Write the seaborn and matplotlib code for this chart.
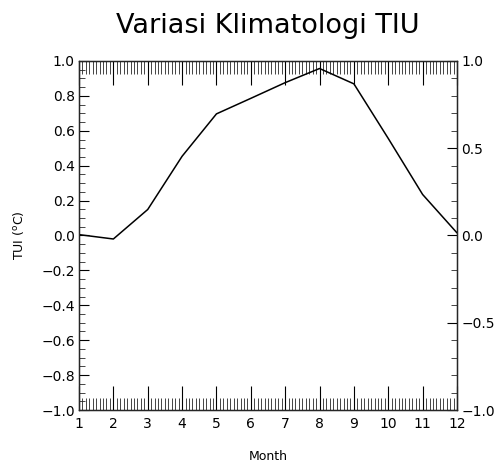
import matplotlib
matplotlib.use("Agg")
import matplotlib.pyplot as plt
from matplotlib.ticker import MultipleLocator, FuncFormatter
import seaborn as sns
import pandas as pd

# Monthly climatology of the TUI index
months = [1, 2, 3, 4, 5, 6, 7, 8, 9, 10, 11, 12]
tui = [0.005, -0.02, 0.149, 0.454, 0.697, 0.786, 0.876, 0.957, 0.869, 0.556, 0.235, 0.015]

title = "Variasi Klimatologi TIU"
xlabel = "Month"
ylabel = r"TUI ($^{\rm o}$C)"

sns.set_style("ticks")
plt.rcParams["font.family"] = ["DejaVu Sans"]
plt.rcParams["text.color"] = "black"
plt.rcParams["axes.labelcolor"] = "black"


def one_decimal(v, pos):
    s = "%.1f" % v
    if s == "-0.0":
        s = "0.0"
    return s.replace("-", "\u2212")


df = pd.DataFrame({"Month": months, "TUI": tui})

fig = plt.figure(figsize=(4.99, 4.67), dpi=100)
ax = fig.add_axes([79 / 499, 1 - 410 / 467, (457 - 79) / 499, (410 - 61) / 467])

sns.lineplot(data=df, x="Month", y="TUI", ax=ax, color="black", linewidth=1.1)

ax.set_xlim(1, 12)
ax.set_ylim(-1, 1)
ax.xaxis.set_major_locator(MultipleLocator(1))
ax.xaxis.set_minor_locator(MultipleLocator(0.1))
ax.yaxis.set_major_locator(MultipleLocator(0.2))
ax.yaxis.set_minor_locator(MultipleLocator(0.05))
ax.yaxis.set_major_formatter(FuncFormatter(one_decimal))

for sp in ax.spines.values():
    sp.set_visible(True)
    sp.set_linewidth(0.9)
    sp.set_color("black")

ax.tick_params(axis="x", which="major", direction="in", length=17, width=0.8,
               top=True, bottom=True, labelsize=10, pad=5, colors="black")
ax.tick_params(axis="x", which="minor", direction="in", length=9, width=0.6,
               top=True, bottom=True)
ax.tick_params(axis="y", which="major", direction="in", length=7, width=0.8,
               left=True, right=False, labelsize=10, pad=3, colors="black")
ax.tick_params(axis="y", which="minor", direction="in", length=4, width=0.6,
               left=True, right=False)

ax.set_xlabel(xlabel, fontsize=9, labelpad=14)
ax.set_ylabel(ylabel, fontsize=9, labelpad=11)
ax.set_title(title, fontsize=19.5, pad=20, color="black")

# Right-hand axis with a coarser scale
ax2 = ax.twinx()
ax2.set_ylim(-1, 1)
ax2.yaxis.set_major_locator(MultipleLocator(0.5))
ax2.yaxis.set_minor_locator(MultipleLocator(0.1))
ax2.yaxis.set_major_formatter(FuncFormatter(one_decimal))
ax2.tick_params(axis="y", which="major", direction="in", length=7, width=0.8,
                labelsize=10, pad=3, colors="black")
ax2.tick_params(axis="y", which="minor", direction="in", length=4, width=0.6)
for sp in ax2.spines.values():
    sp.set_linewidth(0.9)

fig.savefig("out.png", dpi=100)
